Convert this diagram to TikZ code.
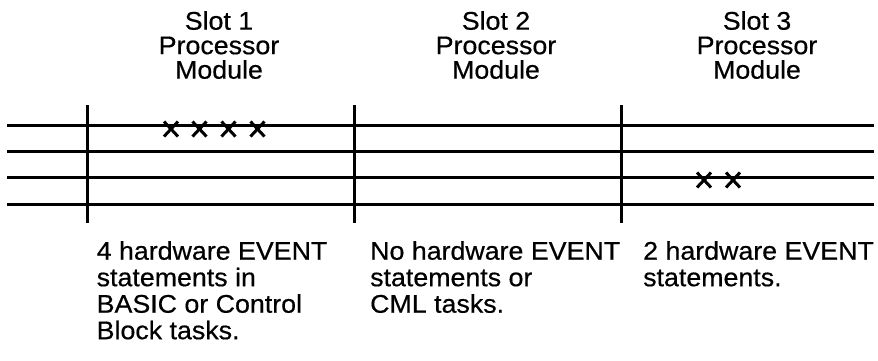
\documentclass[tikz,border=0pt]{standalone}
\usepackage{fontspec}
\setmainfont{Liberation Sans}[FakeStretch=1.05,FakeBold=0.5]
\usetikzlibrary{shapes.misc}
\begin{document}
\begin{tikzpicture}[x=1pt,y=-1pt,
  rail/.style={line width=3pt},
  divider/.style={line width=3pt},
  xmk/.style={cross out,draw,line width=3pt,minimum width=11pt,minimum height=12pt,inner sep=0pt},
  headtxt/.style={inner sep=0pt,anchor=north,align=center,font=\fontsize{25.5}{24.5}\selectfont},
  desctxt/.style={inner sep=0pt,anchor=north west,align=left,font=\fontsize{25.5}{26.5}\selectfont}]
\useasboundingbox (0,0) rectangle (878,360);
% rails
\foreach \yy in {125,151.5,177.5,204} \draw[rail] (7,\yy) -- (874,\yy);
% dividers
\foreach \xx in {87.5,354.5,621.5} \draw[divider] (\xx,105) -- (\xx,223);
% headers
\node[headtxt] (h1) at (219,11) {Slot 1\\Processor\\Module};
\node[headtxt] (h2) at (496,11) {Slot 2\\Processor\\Module};
\node[headtxt] (h3) at (757,11) {Slot 3\\Processor\\Module};
% descriptions
\node[desctxt] (d1) at (96.5,241) {4 hardware EVENT\\statements in\\BASIC or Control\\Block tasks.};
\node[desctxt] (d2) at (370,241) {No hardware EVENT\\statements or\\CML tasks.};
\node[desctxt] (d3) at (643,241) {2 hardware EVENT\\statements.};
% event marks
\node[xmk] (e1) at (171,129) {};
\node[xmk] (e2) at (199.5,129) {};
\node[xmk] (e3) at (228.5,129) {};
\node[xmk] (e4) at (257.5,129) {};
\node[xmk] (e5) at (704,180) {};
\node[xmk] (e6) at (733,180) {};
\end{tikzpicture}
\end{document}
